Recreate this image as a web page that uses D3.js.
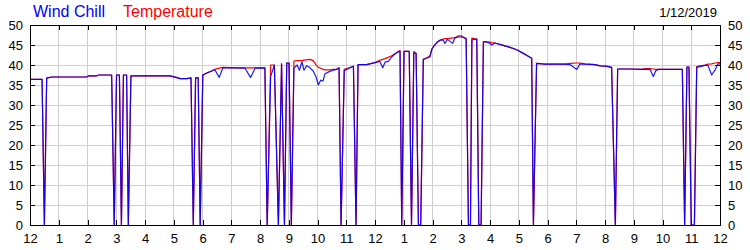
<!DOCTYPE html>
<html>
<head>
<meta charset="utf-8">
<script src="https://cdn.jsdelivr.net/npm/d3@7"></script>
<style>
  body { margin: 0; background: #fff; }
  text { font-family: "Liberation Sans", Arial, sans-serif; }
</style>
</head>
<body>
<div id="chartContainer"></div>
<script>
const ctx = {
    W: 750,
    H: 250,
    LEFT: 30,
    RIGHT: 720,
    TOP: 25,
    BOTTOM: 225,
};

const dateLabel = "1/12/2019";
const seriesNames = ["Wind Chill", "Temperature"];

// hour labels along the bottom, one per hour from midnight to midnight
const hourLabels = ["12","1","2","3","4","5","6","7","8","9","10","11",
                    "12","1","2","3","4","5","6","7","8","9","10","11","12"];
const yTicks = [0, 5, 10, 15, 20, 25, 30, 35, 40, 45, 50];

// readings: time of day (hours), temperature, wind chill (0 = dropout)
const hours = [
    0.00, 0.42, 0.50, 0.58, 0.75, 1.97, 2.05, 2.32, 2.40, 2.84,
    2.93, 3.01, 3.11, 3.18, 3.25, 3.36, 3.42, 3.51, 4.87, 5.08,
    5.22, 5.45, 5.60, 5.68, 5.76, 5.85, 5.92, 6.01, 6.15, 6.32,
    6.43, 6.58, 6.71, 7.13, 7.48, 7.67, 7.83, 8.17, 8.25, 8.37,
    8.50, 8.64, 8.75, 8.85, 8.93, 9.01, 9.09, 9.18, 9.29, 9.37,
    9.46, 9.53, 9.62, 9.74, 9.85, 9.95, 10.03, 10.11, 10.19, 10.26,
    10.43, 10.55, 10.67, 10.75, 10.82, 10.93, 11.10, 11.25, 11.34, 11.41,
    11.71, 11.89, 12.00, 12.17, 12.27, 12.35, 12.46, 12.58, 12.70, 12.81,
    12.87, 12.93, 13.01, 13.19, 13.27, 13.35, 13.43, 13.51, 13.59, 13.68,
    13.81, 13.91, 13.98, 14.05, 14.15, 14.26, 14.37, 14.43, 14.52, 14.70,
    14.78, 14.90, 15.01, 15.07, 15.17, 15.25, 15.32, 15.37, 15.54, 15.61,
    15.69, 15.77, 15.86, 15.94, 16.06, 16.17, 16.46, 16.70, 16.93, 17.16,
    17.33, 17.45, 17.51, 17.62, 17.91, 18.61, 18.78, 19.02, 19.13, 19.30,
    19.65, 19.83, 20.03, 20.23, 20.36, 20.44, 20.87, 21.28, 21.39, 21.57,
    21.68, 21.77, 21.86, 22.69, 22.77, 22.85, 22.92, 23.00, 23.11, 23.19,
    23.30, 23.48, 23.58, 23.71, 23.83, 23.93, 24.00
];

const temperature = [
    36.4, 36.4, 0, 36.7, 37.0, 37.0, 37.3, 37.3, 37.5, 37.5,
    0, 37.5, 37.5, 0, 37.5, 37.5, 0, 37.3, 37.3, 36.9,
    36.6, 36.6, 36.8, 0, 36.8, 36.8, 0, 37.5, 38.0, 38.5,
    38.9, 39.2, 39.4, 39.3, 39.3, 39.3, 39.3, 39.3, 0, 40.0,
    40.0, 0, 40.3, 0, 40.5, 40.5, 0, 41.0, 41.1, 41.1,
    41.1, 41.2, 41.3, 41.4, 41.1, 40.0, 39.4, 39.2, 38.9, 38.8,
    38.8, 38.9, 39.0, 39.3, 0, 38.9, 39.3, 39.7, 0, 40.1,
    40.1, 40.4, 40.6, 41.2, 41.4, 41.6, 41.9, 42.3, 42.8, 43.4,
    43.6, 0, 43.4, 43.4, 0, 43.4, 42.9, 0, 0, 41.5,
    41.8, 42.3, 44.0, 44.8, 45.6, 46.2, 46.5, 46.6, 46.6, 46.8,
    46.8, 47.3, 47.3, 47.0, 46.7, 0, 0, 46.7, 46.5, 0,
    0, 45.8, 45.8, 45.8, 45.6, 45.5, 44.9, 44.4, 43.8, 42.9,
    42.2, 41.7, 0, 40.4, 40.2, 40.2, 40.4, 40.5, 40.5, 40.3,
    40.1, 39.8, 39.7, 39.4, 0, 39.0, 39.0, 38.9, 39.1, 39.1,
    39.0, 38.9, 38.9, 38.9, 0, 39.5, 39.5, 0, 0, 39.6,
    39.8, 40.0, 40.2, 40.3, 40.5, 40.6, 40.6
];

const windChill = [
    36.4, 36.4, 0, 36.7, 37.0, 37.0, 37.3, 37.3, 37.5, 37.5,
    0, 37.5, 37.5, 0, 37.5, 37.5, 0, 37.3, 37.3, 36.9,
    36.6, 36.6, 36.8, 0, 36.8, 36.8, 0, 37.5, 38.0, 38.5,
    38.8, 36.9, 39.3, 39.3, 39.2, 36.9, 39.2, 39.3, 0, 37.1,
    40.0, 0, 40.3, 0, 40.5, 40.5, 0, 39.2, 40.0, 38.7,
    40.8, 38.7, 39.8, 39.3, 38.5, 37.0, 35.0, 36.2, 36.0, 37.8,
    38.4, 38.7, 38.9, 39.3, 0, 38.6, 39.2, 39.7, 0, 40.1,
    40.1, 40.4, 40.6, 40.9, 39.3, 40.7, 40.9, 42.0, 42.8, 43.3,
    43.4, 0, 43.4, 43.4, 0, 43.0, 42.9, 0, 0, 41.3,
    41.8, 42.0, 44.0, 44.7, 45.6, 46.2, 46.3, 45.4, 46.4, 45.4,
    46.8, 47.0, 47.0, 46.9, 46.5, 0, 0, 46.3, 46.5, 0,
    0, 45.8, 45.8, 45.6, 45.0, 45.5, 44.9, 44.4, 43.8, 42.9,
    42.2, 41.7, 0, 40.4, 40.2, 40.2, 40.1, 38.9, 40.3, 40.2,
    40.1, 39.8, 39.7, 39.4, 0, 39.0, 39.0, 38.9, 38.9, 38.9,
    37.1, 38.6, 38.9, 38.9, 0, 39.5, 39.5, 0, 0, 39.4,
    39.6, 39.9, 39.9, 37.5, 38.8, 40.3, 40.3
];

function createViz() {
    const svgEl = d3.select("#chartContainer").append("svg")
                    .attr("width", ctx.W)
                    .attr("height", ctx.H)
                    .style("background", "#fff");

    const x = d3.scaleLinear().domain([0, 24]).range([ctx.LEFT, ctx.RIGHT]);
    const y = d3.scaleLinear().domain([0, 50]).range([ctx.BOTTOM, ctx.TOP]);
    const hourTicks = d3.range(0, 25);

    // grid
    const grid = svgEl.append("g").attr("id", "grid")
        .attr("stroke", "#cfcfcf")
        .attr("stroke-width", 1)
        .attr("shape-rendering", "crispEdges");
    grid.selectAll("line.v")
        .data(hourTicks.slice(1, -1))
        .enter().append("line")
        .attr("class", "v")
        .attr("x1", d => x(d)).attr("x2", d => x(d))
        .attr("y1", ctx.TOP).attr("y2", ctx.BOTTOM);
    grid.selectAll("line.h")
        .data(yTicks.slice(1, -1))
        .enter().append("line")
        .attr("class", "h")
        .attr("x1", ctx.LEFT).attr("x2", ctx.RIGHT)
        .attr("y1", d => y(d)).attr("y2", d => y(d));

    // lines
    const rows = hours.map((h, i) => ({ h: h, t: temperature[i], c: windChill[i] }));
    const tempLine = d3.line().x(d => x(d.h)).y(d => y(d.t));
    const chillLine = d3.line().x(d => x(d.h)).y(d => y(d.c));

    svgEl.append("path")
        .datum(rows)
        .attr("d", tempLine)
        .attr("fill", "none")
        .attr("stroke", "#ff0000")
        .attr("stroke-width", 1.2)
        .attr("stroke-linejoin", "round");

    svgEl.append("path")
        .datum(rows)
        .attr("d", chillLine)
        .attr("fill", "none")
        .attr("stroke", "#0000ff")
        .attr("stroke-width", 1.2)
        .attr("stroke-opacity", 0.9)
        .attr("stroke-linejoin", "round");

    // axes with inward ticks
    const fontSize = "13px";
    const styleAxis = g => {
        g.select(".domain").remove();
        g.selectAll("line").attr("stroke", "#000").attr("shape-rendering", "crispEdges");
        g.selectAll("text").attr("fill", "#000").style("font-size", fontSize)
         .style("font-family", '"Liberation Sans", Arial, sans-serif');
    };

    svgEl.append("g")
        .attr("transform", `translate(0,${ctx.BOTTOM})`)
        .call(d3.axisBottom(x).tickValues(hourTicks)
              .tickFormat(d => hourLabels[d])
              .tickSizeInner(-5).tickSizeOuter(0).tickPadding(9))
        .call(styleAxis);

    svgEl.append("g")
        .attr("transform", `translate(0,${ctx.TOP})`)
        .call(d3.axisTop(x).tickValues(hourTicks).tickFormat("")
              .tickSizeInner(-5).tickSizeOuter(0))
        .call(styleAxis);

    svgEl.append("g")
        .attr("transform", `translate(${ctx.LEFT},0)`)
        .call(d3.axisLeft(y).tickValues(yTicks)
              .tickSizeInner(-5).tickSizeOuter(0).tickPadding(7))
        .call(styleAxis);

    svgEl.append("g")
        .attr("transform", `translate(${ctx.RIGHT},0)`)
        .call(d3.axisRight(y).tickValues(yTicks)
              .tickSizeInner(-5).tickSizeOuter(0).tickPadding(8))
        .call(styleAxis);

    // frame
    svgEl.append("rect")
        .attr("x", ctx.LEFT).attr("y", ctx.TOP)
        .attr("width", ctx.RIGHT - ctx.LEFT)
        .attr("height", ctx.BOTTOM - ctx.TOP)
        .attr("fill", "none")
        .attr("stroke", "#000")
        .attr("shape-rendering", "crispEdges");

    // titles
    svgEl.append("text")
        .attr("x", 33).attr("y", 17)
        .attr("fill", "#0000ff")
        .style("font-size", "16px")
        .text(seriesNames[0]);
    svgEl.append("text")
        .attr("x", 123).attr("y", 17)
        .attr("fill", "#ff0000")
        .style("font-size", "16px")
        .text(seriesNames[1]);
    svgEl.append("text")
        .attr("x", 717).attr("y", 17)
        .attr("text-anchor", "end")
        .attr("fill", "#000")
        .style("font-size", "13px")
        .text(dateLabel);
};

createViz();
</script>
</body>
</html>
